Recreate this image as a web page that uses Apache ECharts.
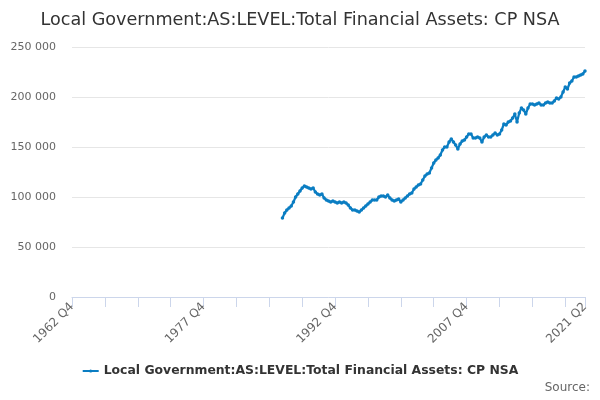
<!DOCTYPE html>
<html>
<head>
<meta charset="utf-8">
<script src="https://cdn.jsdelivr.net/npm/echarts@6/dist/echarts.min.js"></script>
<style>
html,body{margin:0;padding:0;background:#fff;}
#main{width:600px;height:400px;}
</style>
</head>
<body>
<div id="main"></div>
<script>
var seriesName = 'Local Government:AS:LEVEL:Total Financial Assets: CP NSA';

// quarters from 1962 Q4 to 2021 Q2
var quarters = [];
for (var y = 1962; y <= 2021; y++) {
    for (var q = 1; q <= 4; q++) {
        if (y == 1962 && q < 4) continue;
        if (y == 2021 && q > 2) continue;
        quarters.push(y + ' Q' + q);
    }
}

// values start at 1986 Q4, nothing before that
var firstQuarter = '1986 Q4';
var values = [
    79000, 84000, 87000, 89000, 91000, 95000, 100000, 103000, 106000, 109000,
    111000, 110000, 109000, 108000, 109000, 105000, 103000, 102000, 103000, 99000,
    97000, 96000, 95000, 96000, 95000, 94000, 95000, 94000, 95000, 94000,
    92000, 89000, 87000, 87000, 86000, 85000, 87000, 89000, 91000, 93000,
    95000, 97000, 97000, 97000, 100000, 101000, 101000, 100000, 102000, 99000,
    97000, 96000, 97000, 98000, 95000, 97000, 99000, 101000, 103000, 104000,
    108000, 110000, 112000, 113000, 117000, 121000, 123000, 124000, 129000, 134000,
    137000, 139000, 142000, 147000, 150000, 150000, 155000, 158000, 155000, 152000,
    148000, 153000, 156000, 157000, 160000, 163000, 163000, 159000, 159000, 160000,
    159000, 155000, 160000, 162000, 160000, 160000, 162000, 164000, 162000, 163000,
    167000, 173000, 172000, 175000, 176000, 179000, 183000, 175000, 184000, 189000,
    187000, 183000, 189000, 193000, 193000, 192000, 193000, 194000, 192000, 192000,
    194000, 195000, 194000, 194000, 196000, 199000, 198000, 200000, 205000, 210000,
    208000, 214000, 216000, 220000, 220000, 221000, 222000, 223000, 226000
];

var labelEvery = 60;
var tickEvery = 15;

var data = [];
var start = quarters.indexOf(firstQuarter);
for (var i = 0; i < quarters.length; i++) {
    data.push(i >= start && i - start < values.length ? values[i - start] : null);
}

function fmt(v) {
    return String(v).replace(/\B(?=(\d{3})+(?!\d))/g, ' ');
}

var myChart = echarts.init(document.getElementById('main'));

var option = {
    animation: false,
    textStyle: { fontFamily: 'DejaVu Sans' },
    title: {
        text: seriesName,
        left: 'center',
        top: 6,
        textStyle: { fontSize: 17.6, fontWeight: 'normal', color: '#333', fontFamily: 'DejaVu Sans' }
    },
    legend: {
        bottom: 18,
        left: 'center',
        itemWidth: 16,
        itemHeight: 4,
        textStyle: { fontSize: 12.4, fontWeight: 'bold', color: '#333' },
        data: [seriesName]
    },
    graphic: [{
        type: 'text',
        right: 10,
        bottom: 6,
        style: { text: 'Source:', fill: '#666', fontSize: 12, fontFamily: 'DejaVu Sans' }
    }],
    grid: { left: 72, right: 15, top: 47, bottom: 103, containLabel: false },
    xAxis: {
        type: 'category',
        data: quarters,
        boundaryGap: false,
        axisLine: { lineStyle: { color: '#ccd6eb' } },
        axisTick: {
            length: 10,
            lineStyle: { color: '#ccd6eb' },
            interval: function (idx) { return idx % tickEvery == 0 || idx == quarters.length - 1; }
        },
        axisLabel: {
            rotate: 45,
            color: '#666',
            fontSize: 12,
            margin: 8,
            interval: function (idx) { return idx % labelEvery == 0 || idx == quarters.length - 1; }
        }
    },
    yAxis: {
        type: 'value',
        min: 0,
        max: 250000,
        interval: 50000,
        axisLine: { show: false },
        axisTick: { show: false },
        splitLine: { lineStyle: { color: '#e6e6e6' } },
        axisLabel: { color: '#666', fontSize: 11, margin: 16, formatter: fmt }
    },
    series: [{
        name: seriesName,
        type: 'line',
        data: data,
        connectNulls: false,
        showSymbol: true,
        showAllSymbol: true,
        symbol: 'circle',
        symbolSize: 3.5,
        itemStyle: { color: '#0a7dc2' },
        lineStyle: { width: 2.2, color: '#0a7dc2' }
    }]
};
myChart.setOption(option);
</script>
</body>
</html>
